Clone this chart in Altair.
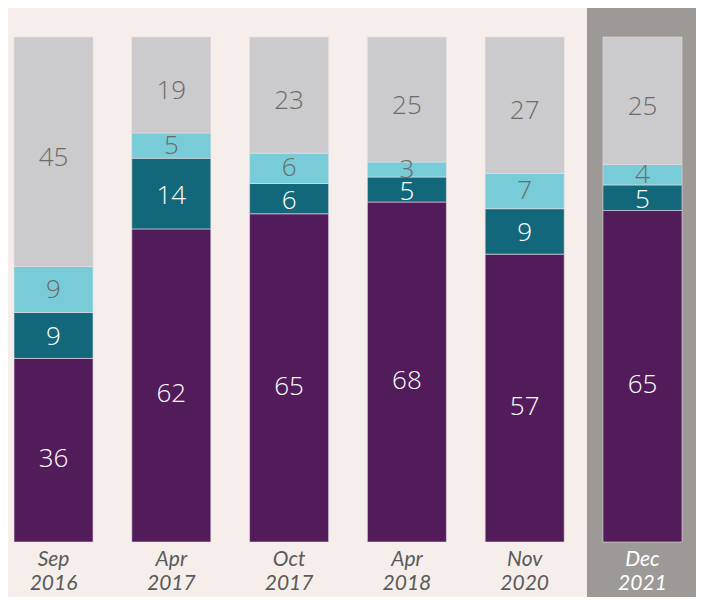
import altair as alt
import pandas as pd

months = ["Sep", "Apr", "Oct", "Apr", "Nov", "Dec"]
years = ["2016", "2017", "2017", "2018", "2020", "2021"]
series = ["s1", "s2", "s3", "s4"]
v1 = [36, 62, 65, 68, 57, 65]
v2 = [9, 14, 6, 5, 9, 5]
v3 = [9, 5, 6, 3, 7, 4]
v4 = [45, 19, 23, 25, 27, 25]
colors = ["#521b5a", "#12687a", "#78ccd8", "#cbcacc"]
label_colors = ["#ffffff", "#ffffff", "#6b6b6b", "#6b6b6b"]
label_dy = [9, 2, 0, 6]

keys = [f"{i}" for i in range(len(months))]
rows = []
for i, k in enumerate(keys):
    for j, (s, vals) in enumerate(zip(series, [v1, v2, v3, v4])):
        rows.append({"key": k, "series": s, "order": j, "value": vals[i],
                     "lc": label_colors[j]})
df = pd.DataFrame(rows)
lab = pd.DataFrame({"key": keys, "m": months, "y": years,
                    "c": ["#5a5a5a"] * 5 + ["#ffffff"]})
hl = pd.DataFrame({"key": [keys[-1]]})

xenc = alt.X("key:N", sort=keys, axis=None,
             scale=alt.Scale(paddingInner=0.329, paddingOuter=0))

hrect = alt.Chart(hl).mark_bar(color="#9d9997", width=111, clip=False).encode(
    x=xenc, y=alt.value(-31), y2=alt.value(575))

base = alt.Chart(df).transform_stack(
    stack="value", groupby=["key"], as_=["y0", "y1"],
    sort=[alt.SortField("order", "ascending")], offset="normalize"
).transform_calculate(mid="(datum.y0 + datum.y1) / 2")

yscale = alt.Scale(domain=[0, 1], nice=False, zero=True)

bars = base.mark_bar(stroke="#e9dfe6", strokeWidth=0.6).encode(
    x=xenc,
    y=alt.Y("y0:Q", scale=yscale, axis=None),
    y2="y1:Q",
    color=alt.Color("series:N", scale=alt.Scale(domain=series, range=colors), legend=None),
)

text_layers = []
for s, dy in zip(series, label_dy):
    text_layers.append(
        base.transform_filter(alt.datum.series == s).mark_text(
            font="Open Sans", fontWeight=300, fontSize=26, baseline="middle", dy=dy
        ).encode(
            x=xenc,
            y=alt.Y("mid:Q", scale=yscale, axis=None),
            text="value:Q",
            color=alt.Color("lc:N", scale=None),
        )
    )

lab1 = alt.Chart(lab).mark_text(font="Lato", fontStyle="italic", fontWeight=400, fontSize=21,
                                baseline="middle", clip=False).encode(
    x=xenc, y=alt.value(523), text="m:N", color=alt.Color("c:N", scale=None))
lab2 = alt.Chart(lab).mark_text(font="Lato", fontStyle="italic", fontWeight=400, fontSize=21,
                                baseline="middle", clip=False).encode(
    x=xenc, y=alt.value(547), text="y:N", color=alt.Color("c:N", scale=None))

chart = alt.layer(hrect, bars, *text_layers, lab1, lab2).properties(
    width=668, height=505,
    autosize=alt.AutoSizeParams(type="none"),
    padding={"left": 6, "top": 29, "right": 14, "bottom": 55},
    background="#f5eeeb",
).configure_view(stroke=None)

chart.save("out.html", embed_options={"renderer": "svg", "actions": False})
